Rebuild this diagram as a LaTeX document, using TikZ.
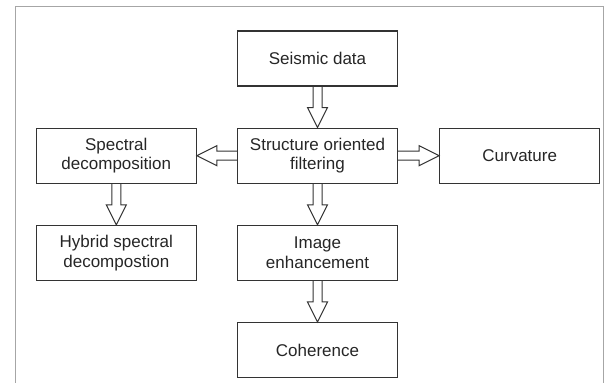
\documentclass[tikz,border=0pt]{standalone}
\usepackage{fontspec}
\setmainfont{Liberation Sans}
\usepackage{tikz}
\usetikzlibrary{calc,positioning}
\newcommand{\clrline}{black!80}
\newcommand{\clrframe}{black!35}
% hollow block arrow, downwards from #1 to #2
\newcommand{\vblock}[2]{%
    \draw[hollow] ($(#1.south)+(-4.5,0)$) -- ($(#2.north)+(-4.5,20)$) -- ($(#2.north)+(-10,20)$)
        -- (#2.north) -- ($(#2.north)+(10,20)$) -- ($(#2.north)+(4.5,20)$) -- ($(#1.south)+(4.5,0)$);
}
% hollow block arrow, sideways from anchor #1 to anchor #2, #3 = +1 right / -1 left
\newcommand{\hblock}[3]{%
    \draw[hollow] ($(#1)+(0,4.5)$) -- ($(#2)+(-#3*20,4.5)$) -- ($(#2)+(-#3*20,10)$)
        -- (#2) -- ($(#2)+(-#3*20,-10)$) -- ($(#2)+(-#3*20,-4.5)$) -- ($(#1)+(0,-4.5)$);
}

\begin{document}
\begin{tikzpicture}[x=1pt, y=1pt,
    box/.style={draw=\clrline, line width=1.2pt, minimum width=160pt, minimum height=55pt,
        align=center, text=black!85, font=\fontsize{17}{19.5}\selectfont},
    hollow/.style={draw=\clrline, line width=1pt, line join=miter}]
    \useasboundingbox (0,0) rectangle (611,383);
    \draw[\clrframe, line width=1pt] (15,-2) -- (15,376) -- (603,376) -- (603,-2);

    \node[box] (seismic) at (317.5,324.5) {Seismic data};
    \node[box, below=41pt of seismic] (filter) {Structure oriented\\filtering};
    \node[box, left=40pt of filter] (spectral) {Spectral\\decomposition};
    \node[box, right=41pt of filter] (curv) {Curvature};
    \node[box, below=41pt of spectral] (hybrid) {Hybrid spectral\\decompostion};
    \node[box, below=41pt of filter] (enhance) {Image\\enhancement};
    \node[box, below=41pt of enhance] (coher) {Coherence};

    \vblock{seismic}{filter}
    \vblock{filter}{enhance}
    \vblock{enhance}{coher}
    \vblock{spectral}{hybrid}
    \hblock{filter.west}{spectral.east}{-1}
    \hblock{filter.east}{curv.west}{1}
\end{tikzpicture}
\end{document}
